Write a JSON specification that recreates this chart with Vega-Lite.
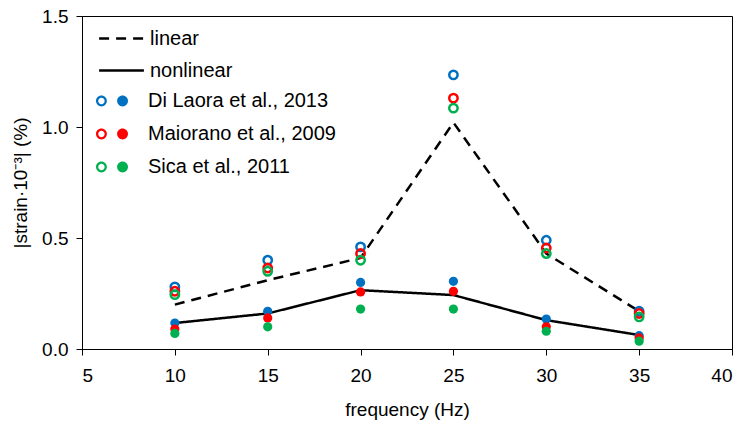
{
  "$schema": "https://vega.github.io/schema/vega-lite/v6.json",
  "width": 650,
  "height": 333,
  "autosize": {"type": "none"},
  "padding": {"left": 82, "top": 16, "right": 15, "bottom": 81},
  "background": "white",
  "config": {
    "font": "Liberation Sans",
    "view": {"stroke": "#000000", "strokeWidth": 1},
    "axis": {
      "grid": false,
      "domainColor": "#000000",
      "tickColor": "#000000",
      "tickSize": 6,
      "labelColor": "#000000",
      "titleColor": "#000000",
      "labelFont": "Liberation Sans",
      "titleFont": "Liberation Sans",
      "labelFontSize": 19,
      "titleFontSize": 19,
      "titleFontWeight": "normal"
    },
    "legend": {
      "labelFont": "Liberation Sans",
      "labelFontSize": 20,
      "labelColor": "#000000",
      "labelLimit": 400,
      "padding": 0,
      "rowPadding": 7
    }
  },
  "datasets": {
    "lines": [
      {"freq": 10, "value": 0.20, "model": "linear"},
      {"freq": 15, "value": 0.31, "model": "linear"},
      {"freq": 20, "value": 0.41, "model": "linear"},
      {"freq": 25, "value": 1.02, "model": "linear"},
      {"freq": 30, "value": 0.43, "model": "linear"},
      {"freq": 35, "value": 0.17, "model": "linear"},
      {"freq": 10, "value": 0.117, "model": "nonlinear"},
      {"freq": 15, "value": 0.16, "model": "nonlinear"},
      {"freq": 20, "value": 0.265, "model": "nonlinear"},
      {"freq": 25, "value": 0.243, "model": "nonlinear"},
      {"freq": 30, "value": 0.13, "model": "nonlinear"},
      {"freq": 35, "value": 0.063, "model": "nonlinear"}
    ],
    "points": [
      {"freq": 10, "study": "Di Laora et al., 2013", "type": "linear", "value": 0.28},
      {"freq": 10, "study": "Maiorano et al., 2009", "type": "linear", "value": 0.26},
      {"freq": 10, "study": "Sica et al., 2011", "type": "linear", "value": 0.245},
      {"freq": 15, "study": "Di Laora et al., 2013", "type": "linear", "value": 0.40},
      {"freq": 15, "study": "Maiorano et al., 2009", "type": "linear", "value": 0.365},
      {"freq": 15, "study": "Sica et al., 2011", "type": "linear", "value": 0.35},
      {"freq": 20, "study": "Di Laora et al., 2013", "type": "linear", "value": 0.46},
      {"freq": 20, "study": "Maiorano et al., 2009", "type": "linear", "value": 0.43},
      {"freq": 20, "study": "Sica et al., 2011", "type": "linear", "value": 0.40},
      {"freq": 25, "study": "Di Laora et al., 2013", "type": "linear", "value": 1.235},
      {"freq": 25, "study": "Maiorano et al., 2009", "type": "linear", "value": 1.13},
      {"freq": 25, "study": "Sica et al., 2011", "type": "linear", "value": 1.085},
      {"freq": 30, "study": "Di Laora et al., 2013", "type": "linear", "value": 0.49},
      {"freq": 30, "study": "Maiorano et al., 2009", "type": "linear", "value": 0.455},
      {"freq": 30, "study": "Sica et al., 2011", "type": "linear", "value": 0.43},
      {"freq": 35, "study": "Di Laora et al., 2013", "type": "linear", "value": 0.17},
      {"freq": 35, "study": "Maiorano et al., 2009", "type": "linear", "value": 0.16},
      {"freq": 35, "study": "Sica et al., 2011", "type": "linear", "value": 0.145},
      {"freq": 10, "study": "Di Laora et al., 2013", "type": "nonlinear", "value": 0.117},
      {"freq": 10, "study": "Maiorano et al., 2009", "type": "nonlinear", "value": 0.09},
      {"freq": 10, "study": "Sica et al., 2011", "type": "nonlinear", "value": 0.07},
      {"freq": 15, "study": "Di Laora et al., 2013", "type": "nonlinear", "value": 0.17},
      {"freq": 15, "study": "Maiorano et al., 2009", "type": "nonlinear", "value": 0.14},
      {"freq": 15, "study": "Sica et al., 2011", "type": "nonlinear", "value": 0.10},
      {"freq": 20, "study": "Di Laora et al., 2013", "type": "nonlinear", "value": 0.30},
      {"freq": 20, "study": "Maiorano et al., 2009", "type": "nonlinear", "value": 0.257},
      {"freq": 20, "study": "Sica et al., 2011", "type": "nonlinear", "value": 0.18},
      {"freq": 25, "study": "Di Laora et al., 2013", "type": "nonlinear", "value": 0.305},
      {"freq": 25, "study": "Maiorano et al., 2009", "type": "nonlinear", "value": 0.26},
      {"freq": 25, "study": "Sica et al., 2011", "type": "nonlinear", "value": 0.18},
      {"freq": 30, "study": "Di Laora et al., 2013", "type": "nonlinear", "value": 0.135},
      {"freq": 30, "study": "Maiorano et al., 2009", "type": "nonlinear", "value": 0.10},
      {"freq": 30, "study": "Sica et al., 2011", "type": "nonlinear", "value": 0.08},
      {"freq": 35, "study": "Di Laora et al., 2013", "type": "nonlinear", "value": 0.06},
      {"freq": 35, "study": "Maiorano et al., 2009", "type": "nonlinear", "value": 0.05},
      {"freq": 35, "study": "Sica et al., 2011", "type": "nonlinear", "value": 0.035}
    ]
  },
  "encoding": {
    "x": {
      "field": "freq", "type": "quantitative",
      "scale": {"domain": [5, 40], "nice": false, "zero": false},
      "axis": {"title": "frequency (Hz)", "values": [5, 10, 15, 20, 25, 30, 35, 40], "labelPadding": 11, "titlePadding": 15}
    },
    "y": {
      "field": "value", "type": "quantitative",
      "scale": {"domain": [0, 1.5], "nice": false},
      "axis": {"title": "|strain·10⁻³| (%)", "values": [0, 0.5, 1, 1.5], "format": ".1f", "labelPadding": 8, "titlePadding": 11}
    }
  },
  "layer": [
    {
      "data": {"name": "lines"},
      "mark": {"type": "line", "color": "#000000", "strokeWidth": 2.5},
      "encoding": {
        "strokeDash": {
          "field": "model", "type": "nominal",
          "scale": {"domain": ["linear", "nonlinear"], "range": [[10, 7], [1, 0]]},
          "legend": {
            "title": null, "orient": "none", "legendX": 22, "legendY": 5, "rowPadding": 4,
            "symbolType": "M -1.4 0 L 1.4 0", "symbolSize": 1024, "symbolStrokeWidth": 2.5,
            "symbolStrokeColor": "#000000", "symbolFillColor": "transparent", "labelOffset": 11
          }
        }
      }
    },
    {
      "data": {"name": "points"},
      "transform": [{"filter": "datum.type === 'nonlinear'"}],
      "mark": {"type": "point", "filled": true, "size": 85, "opacity": 1},
      "encoding": {
        "color": {
          "field": "study", "type": "nominal",
          "scale": {"domain": ["Di Laora et al., 2013", "Maiorano et al., 2009", "Sica et al., 2011"], "range": ["#0070C0", "#FF0000", "#00B050"]},
          "legend": {
            "title": null, "orient": "none", "legendX": 14, "legendY": 69,
            "symbolType": "M -1 0 A 0.34 0.34 0 1 1 -0.32 0 A 0.34 0.34 0 1 1 -1 0 Z M -0.86 0 A 0.2 0.2 0 1 0 -0.46 0 A 0.2 0.2 0 1 0 -0.86 0 Z M 0.32 0 A 0.34 0.34 0 1 1 1 0 A 0.34 0.34 0 1 1 0.32 0 Z",
            "symbolSize": 1024, "symbolStrokeWidth": 0, "labelOffset": 20
          }
        }
      }
    },
    {
      "data": {"name": "points"},
      "transform": [{"filter": "datum.type === 'linear'"}],
      "mark": {"type": "point", "filled": false, "size": 70, "strokeWidth": 2.5, "opacity": 1},
      "encoding": {
        "color": {"field": "study", "type": "nominal"}
      }
    }
  ]
}
